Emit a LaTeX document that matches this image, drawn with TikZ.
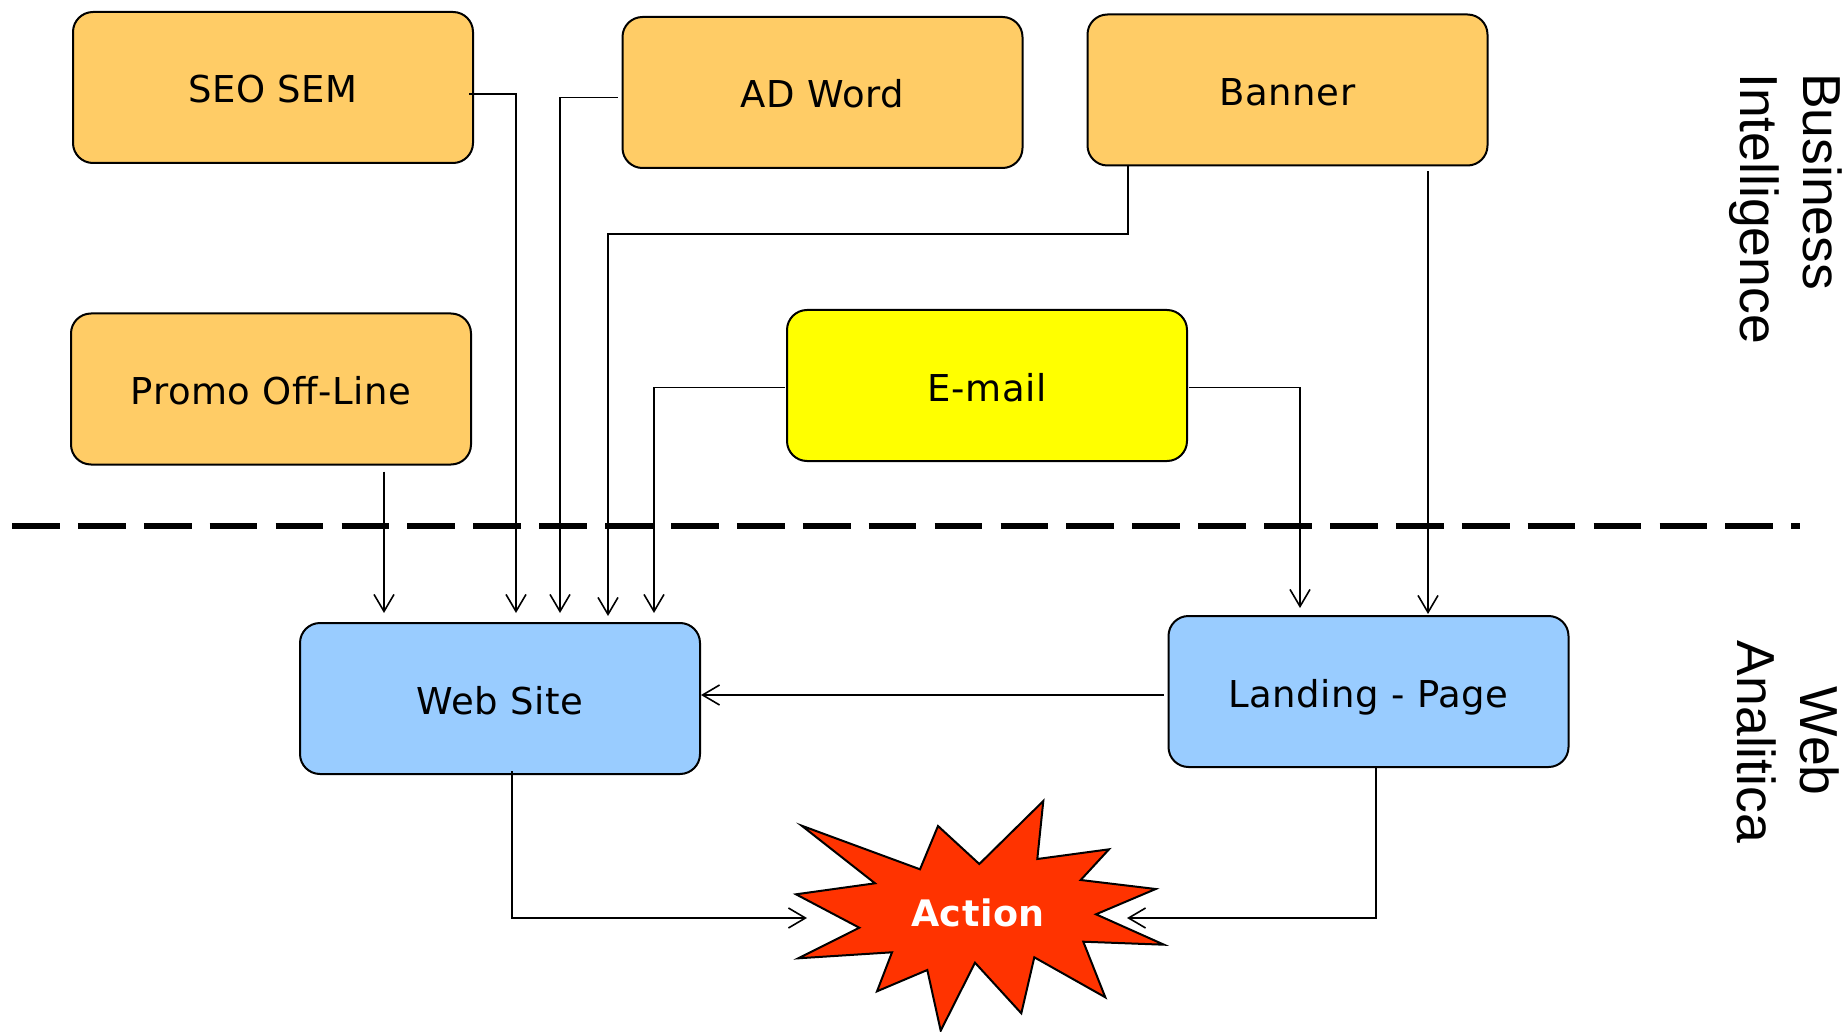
\documentclass[tikz,border=0pt]{standalone}
\usepackage{fontspec}
\setmainfont{DejaVu Sans}[LetterSpace=1.5]
\newfontfamily\labfont{Liberation Sans}
\usetikzlibrary{arrows.meta,calc}
\definecolor{boxorange}{RGB}{255,204,102}
\definecolor{boxblue}{RGB}{153,204,255}
\definecolor{boxyellow}{RGB}{255,255,0}
\definecolor{actred}{RGB}{255,51,0}
\tikzset{
  bx/.style={draw=black, line width=2pt, rounded corners=20pt, minimum width=400pt, minimum height=151pt, inner sep=0pt, text height=31pt, text depth=0pt, font=\fontsize{37}{44}\selectfont},
  obox/.style={bx, fill=boxorange},
  bbox/.style={bx, fill=boxblue},
  ybox/.style={bx, fill=boxyellow},
  arr/.style={line width=1.6pt, -{Straight Barb[length=17pt,width=20pt,line width=1.6pt]}},
  sidelab/.style={rotate=-90, inner sep=0pt, font=\labfont\fontsize{53.5}{60}\selectfont},
}
\begin{document}
\begin{tikzpicture}[x=1pt,y=-1pt]
\useasboundingbox[fill=white] (0,0) rectangle (1847,1032);

% dashed separator
\draw[line width=5.5pt, dash pattern=on 47.7pt off 18.2pt] (12,526) -- (1800,526);

% boxes
\node[obox] (seo) at (273,87.5) {SEO SEM};
\node[obox] (adw) at (822.5,92.5) {AD Word};
\node[obox] (ban) at (1287.5,90) {Banner};
\node[obox] (promo) at (271,389) {Promo Off-Line};
\node[ybox] (email) at (987,385.5) {E-mail};
\node[bbox] (web) at (500,698.5) {Web Site};
\node[bbox] (land) at (1368.5,691.5) {Landing - Page};

% action starburst
\filldraw[fill=actred, draw=black, line width=2pt, line join=miter]
  (801.7,825.7) -- (920,869.3) -- (938,826) -- (979.3,864) -- (1043.3,801)
  -- (1037.3,859) -- (1109,849.3) -- (1080.7,880) -- (1155.7,889) -- (1096,914.3)
  -- (1164,944.7) -- (1083.3,941.7) -- (1105.3,997.3) -- (1034.3,957.3)
  -- (1021.3,1013.3) -- (975,962.7) -- (940.7,1030.7) -- (927.3,970)
  -- (877,991.3) -- (892,952.3) -- (798.3,958.3) -- (859.3,927.7)
  -- (796,894.3) -- (875,883.3) -- cycle;
\node[text=white, font=\bfseries\fontsize{36.5}{44}\selectfont, inner sep=0pt] (action) at (978,913) {Action};

% side labels
\node[sidelab, anchor=base west] (bi1) at (1803,73) {Business};
\node[sidelab, anchor=base west] (bi2) at (1740,73) {Intelligence};
\node[sidelab, anchor=base] (wa1) at (1800,741) {Web};
\node[sidelab, anchor=base] (wa2) at (1737,742) {Analitica};

% connector targets
\coordinate (w1) at (384,613);
\coordinate (w2) at (516,613);
\coordinate (w3) at (560,613);
\coordinate (b1) at (1128,234);
\coordinate (w4) at (608,616);
\coordinate (w5) at (654,613);
\coordinate (l1) at (1300,608);
\coordinate (l2) at (1428,614);
\coordinate (k1) at (512,918);
\coordinate (a1) at (807,918);
\coordinate (k2) at (1376,918);
\coordinate (a2) at (1127,918);

% connectors
\draw[arr] ([yshift=-6pt]promo.south -| w1) -- (w1);
\draw[arr] ([xshift=-5pt,yshift=-6.5pt]seo.east) -| (w2);
\draw[arr] ([xshift=-4pt,yshift=-5pt]adw.west) -| (w3);
\draw[arr] (ban.south -| b1) -- (b1) -| (w4);
\draw[arr] ([xshift=-1pt,yshift=-2pt]email.west) -| (w5);
\draw[arr] ([xshift=1pt,yshift=-2pt]email.east) -| (l1);
\draw[arr] ([yshift=-5pt]ban.south -| l2) -- (l2);
\draw[arr] ([xshift=-4pt,yshift=-3.5pt]land.west) -- ([yshift=-3.5pt]land.west -| web.east);
\draw[arr] ([yshift=4pt]web.south -| k1) -- (k1) -- (a1);
\draw[arr] (land.south -| k2) -- (k2) -- (a2);
\end{tikzpicture}
\end{document}
